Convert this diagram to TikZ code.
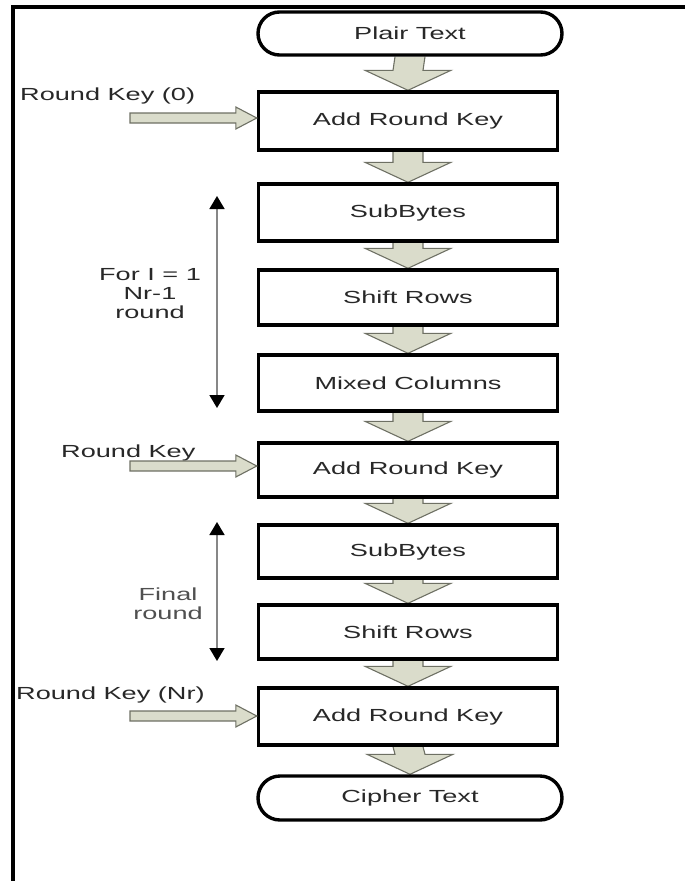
\documentclass[tikz,border=0pt]{standalone}
\usepackage{fontspec}
\setmainfont{Liberation Sans}[FakeStretch=1.55]
\usetikzlibrary{calc,shapes.misc,arrows.meta,backgrounds}
\definecolor{arrfill}{RGB}{218,220,203}
\definecolor{arrdraw}{RGB}{110,112,100}
\definecolor{txt}{RGB}{40,40,40}
\definecolor{vgrey}{RGB}{135,135,135}
\tikzset{
  box/.style={draw=black, line width=3.4pt, fill=white, minimum width=299pt, inner sep=0pt,
    font=\fontsize{17.5}{19}\selectfont, text=txt},
  term/.style={draw=black, line width=3.4pt, fill=white, rounded rectangle, minimum width=304pt,
    inner sep=0pt, font=\fontsize{17.5}{19}\selectfont, text=txt},
  lbl/.style={font=\fontsize{17.5}{19}\selectfont, text=txt, inner sep=0pt},
  blk/.style={fill=arrfill, draw=arrdraw, line width=1.1pt, line join=miter},
  vline/.style={draw=vgrey, line width=1.6pt, {Triangle[width=15pt,length=13pt,color=black]}-{Triangle[width=15pt,length=13pt,color=black]}}
}
\newcommand\blockdown[2]{%
  \path[blk] ($(#1.south)+(-15,0)$) -- ($(#2.north)+(-15,-20)$) -- ($(#2.north)+(-43,-20)$)
    -- (#2.north) -- ($(#2.north)+(43,-20)$) -- ($(#2.north)+(15,-20)$) -- ($(#1.south)+(15,0)$);}
\newcommand\blockright[2]{%
  \path[blk] ($(#1)+(0,-5)$) -- ($(#1 -| #2.west)+(-21,-5)$) -- ($(#1 -| #2.west)+(-21,-11)$)
    -- (#1 -| #2.west) -- ($(#1 -| #2.west)+(-21,11)$) -- ($(#1 -| #2.west)+(-21,5)$)
    -- ($(#1)+(0,5)$) -- cycle;}
\begin{document}
\begin{tikzpicture}[x=1pt,y=-1pt]
\useasboundingbox (0,0) rectangle (685,881);
% frame
\draw[line width=3.5pt] (13,881) -- (13,7) -- (685,7);
% main column
\node[term, minimum height=43pt] (pt) at (410,33.5) {Plair Text};
\node[box, minimum height=58pt] (ark0) at (408,121) {Add Round Key};
\node[box, minimum height=57pt] (sb1) at (408,212.5) {SubBytes};
\node[box, minimum height=55pt] (sr1) at (408,297.5) {Shift Rows};
\node[box, minimum height=56pt] (mc) at (408,383) {Mixed Columns};
\node[box, minimum height=54pt] (ark1) at (408,470) {Add Round Key};
\node[box, minimum height=53pt] (sb2) at (408,551.5) {SubBytes};
\node[box, minimum height=54pt] (sr2) at (408,632) {Shift Rows};
\node[box, minimum height=57pt] (ark2) at (408,716.5) {Add Round Key};
\node[term, minimum height=44pt] (ct) at (410,798) {Cipher Text};
% key labels
\node[lbl, anchor=west] (l0) at (20,96) {Round Key (0)};
\node[lbl, anchor=west] (l1) at (61,453) {Round Key};
\node[lbl, anchor=west] (l2) at (16,695) {Round Key (Nr)};
\coordinate (k0) at (130,118);
\coordinate (k1) at (130,466);
\coordinate (k2) at (130,716);
% loop annotations
\node[lbl, align=center] (for) at (150,294) {For I = 1\\Nr-1\\round};
\node[lbl, align=center, text={rgb,255:red,80;green,80;blue,80}] (fin) at (168,604) {Final\\round};
\coordinate (v1t) at (217,196);
\coordinate (v1b) at (217,408);
\coordinate (v2t) at (217,522);
\coordinate (v2b) at (217,661);
\draw[vline] (v1t) -- (v1b);
\draw[vline] (v2t) -- (v2b);
% block arrows behind boxes
\begin{scope}[on background layer]
\blockdown{pt}{ark0}
\blockdown{ark0}{sb1}
\blockdown{sb1}{sr1}
\blockdown{sr1}{mc}
\blockdown{mc}{ark1}
\blockdown{ark1}{sb2}
\blockdown{sb2}{sr2}
\blockdown{sr2}{ark2}
\blockdown{ark2}{ct}
\end{scope}
\blockright{k0}{ark0}
\blockright{k1}{ark1}
\blockright{k2}{ark2}
\end{tikzpicture}
\end{document}
